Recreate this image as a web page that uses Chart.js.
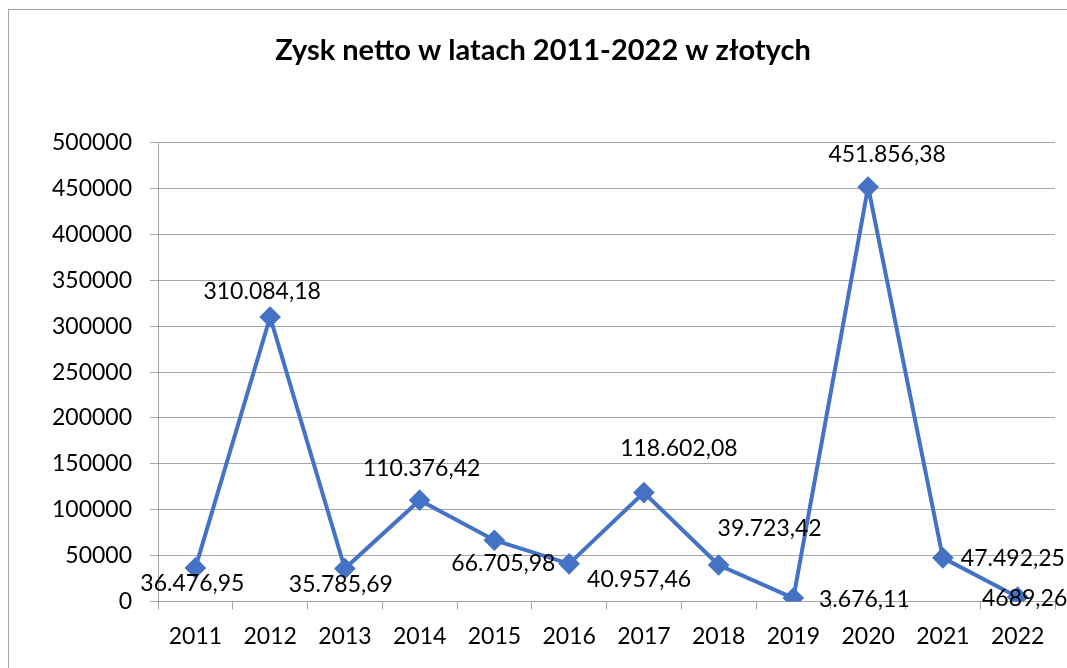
<!DOCTYPE html>
<html>
<head>
<meta charset="utf-8">
<script src="https://cdn.jsdelivr.net/npm/chart.js@4.4.1/dist/chart.umd.min.js"></script>
<style>
  html, body { margin: 0; padding: 0; background: #fff; overflow: hidden; }
  #wrap { position: relative; width: 1067px; height: 668px; }
  #frame { position: absolute; left: 8px; top: 9px; width: 1120px; height: 700px; border: 1px solid #a6a6a6; box-sizing: border-box; }
  canvas { position: absolute; left: 0; top: 0; }
</style>
</head>
<body>
<div id="wrap">
  <div id="frame"></div>
  <canvas id="chart" width="1067" height="668"></canvas>
</div>
<script>
// Data
const years = ['2011', '2012', '2013', '2014', '2015', '2016', '2017', '2018', '2019', '2020', '2021', '2022'];
const profit = [36476.95, 310084.18, 35785.69, 110376.42, 66705.98, 40957.46, 118602.08, 39723.42, 3676.11, 451856.38, 47492.25, 4689.26];
const profitLabels = ['36.476,95', '310.084,18', '35.785,69', '110.376,42', '66.705,98', '40.957,46', '118.602,08', '39.723,42', '3.676,11', '451.856,38', '47.492,25', '4689,26'];

// Where each value label sits relative to its point (dx, dy in px)
const labelShift = [[-3, 16], [-8, -25], [-4, 16], [2, -32], [9, 23], [70, 16], [35, -44], [51, -36], [71, 2], [19, -32], [70, 1], [7, 1]];

const FONT = 'Lato, "Open Sans", sans-serif';

// Simple value-label plugin (no datalabels plugin offline)
const valueLabels = {
  id: 'valueLabels',
  afterDatasetsDraw(chart) {
    const ctx = chart.ctx;
    const meta = chart.getDatasetMeta(0);
    ctx.save();
    ctx.font = '23px ' + FONT;
    ctx.fillStyle = '#000';
    ctx.textAlign = 'center';
    ctx.textBaseline = 'middle';
    meta.data.forEach((pt, i) => {
      ctx.fillText(profitLabels[i], pt.x + labelShift[i][0], pt.y + labelShift[i][1]);
    });
    ctx.restore();
  }
};

const ctx = document.getElementById('chart').getContext('2d');
new Chart(ctx, {
  type: 'line',
  data: {
    labels: years,
    datasets: [{
      data: profit,
      borderColor: '#4472C4',
      backgroundColor: '#4472C4',
      borderWidth: 4,
      pointStyle: 'rectRot',
      pointRadius: 8,
      pointHoverRadius: 8,
      tension: 0
    }]
  },
  options: {
    responsive: false,
    animation: false,
    layout: { padding: { left: 27, right: 8, top: 0, bottom: 5 } },
    plugins: {
      legend: { display: false },
      tooltip: { enabled: false },
      title: {
        display: true,
        text: 'Zysk netto w latach 2011-2022 w złotych',
        color: '#000',
        font: { family: FONT, size: 29, weight: 'bold' },
        padding: { top: 33, bottom: 75 }
      }
    },
    scales: {
      x: {
        offset: true,
        grid: { display: true, drawOnChartArea: false, drawTicks: true, tickLength: 8, offset: true, color: '#a6a6a6' },
        border: { display: true, color: '#a6a6a6' },
        ticks: { color: '#000', font: { family: FONT, size: 23 }, padding: 13, maxRotation: 0 }
      },
      y: {
        min: 0,
        max: 500000,
        afterFit(scale) { scale.width = 131; },
        grid: { color: '#a6a6a6', tickLength: 8, lineWidth: 1 },
        border: { display: true, color: '#a6a6a6' },
        ticks: {
          stepSize: 50000,
          color: '#000',
          font: { family: FONT, size: 23 },
          padding: 18,
          callback: v => String(v)
        }
      }
    }
  },
  plugins: [valueLabels]
});
</script>
</body>
</html>
